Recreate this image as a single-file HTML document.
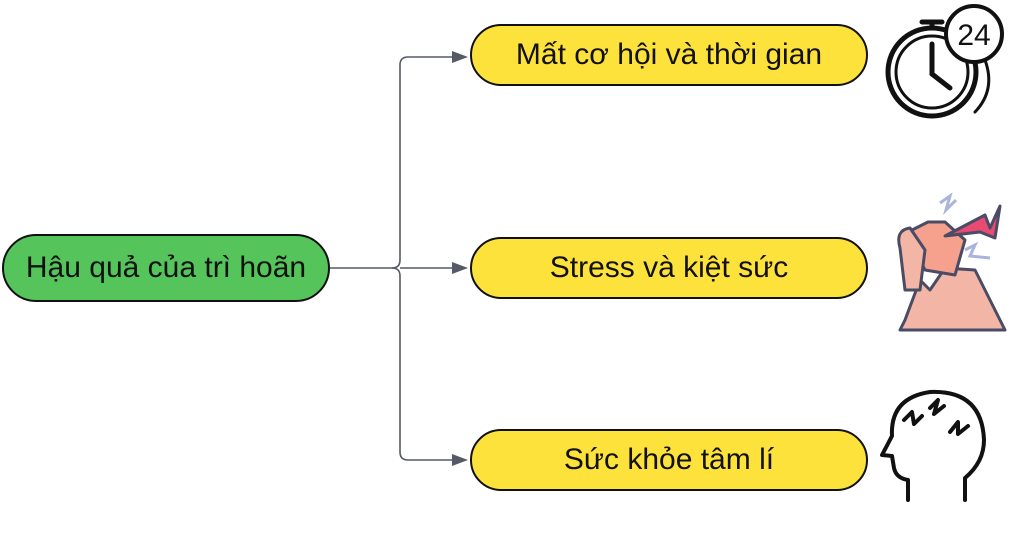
<!DOCTYPE html>
<html><head><meta charset="utf-8"><style>
html,body{margin:0;padding:0;background:#fff;}
body{width:1024px;height:534px;position:relative;overflow:hidden;font-family:"Liberation Sans","DejaVu Sans",sans-serif;}
.n{position:absolute;box-sizing:border-box;border:2.5px solid #111;border-radius:34px;display:flex;align-items:center;justify-content:center;font-size:30px;color:#111;}
.y{background:#fde23b;left:470px;width:398px;height:62px;}
</style></head><body>
<svg width="1024" height="534" style="position:absolute;left:0;top:0">
<g fill="none" stroke="#555a66" stroke-width="1.6">
<path d="M330 268 H392 Q400 268 400 260 V65 Q400 57 408 57 H456"/>
<path d="M392 268 Q400 268 400 276 V452 Q400 460 408 460 H456"/>
<path d="M400 268 H456"/>
</g>
<g fill="#555a66">
<path d="M468 57 L452 51 L452 63Z"/><path d="M468 268 L452 262 L452 274Z"/><path d="M468 460 L452 454 L452 466Z"/>
</g>
<g fill="none" stroke="#111" stroke-width="5" stroke-linecap="round">
<circle cx="932" cy="72" r="44"/>
<circle cx="932" cy="72" r="36" stroke-width="3"/>
<path d="M932 44 V74 L950 88"/>
<path d="M922 22 H942 M932 22 V28"/>
<path d="M985 60 Q996 90 975 112" stroke-width="3"/>
</g>
<circle cx="974" cy="34" r="28" fill="#fff" stroke="#111" stroke-width="4"/>
<text x="974" y="45" font-size="30" text-anchor="middle" font-family="Liberation Sans,sans-serif" fill="#111">24</text>
<g stroke="#4a4c66" stroke-width="3" stroke-linejoin="round">
<path d="M905 320 L920 280 L930 290 L945 268 L975 270 L1005 330 L900 330Z" fill="#f3b6a6"/>
<path d="M912 230 L928 222 L945 222 L965 240 L955 275 L925 270 L915 250Z" fill="#f6a08e"/>
<path d="M900 248 Q895 230 910 228 L925 250 L920 290 L905 290Z" fill="#f3b6a6"/>
<path d="M945 236 L985 215 L990 228 L1000 206 L995 238 L980 232Z" fill="#e84a72"/>
</g>
<path d="M940 203 L950 196 L946 210 L956 200" stroke="#a9b3dc" stroke-width="3" fill="none"/>
<path d="M965 250 L975 245 L970 256 L990 258" stroke="#a9b3dc" stroke-width="3" fill="none"/>
<g fill="none" stroke="#111" stroke-width="4" stroke-linejoin="round" stroke-linecap="round">
<path d="M908 500 V480 Q896 478 894 468 L892 456 L882 455 L892 436 Q890 398 930 392 Q982 390 984 440 Q984 462 965 478 V500"/>
<path d="M904 420 L912 412 L914 424 L922 416"/>
<path d="M930 408 L938 400 L934 414 L944 406"/>
<path d="M950 432 L958 422 L958 434 L968 426"/>
</g>
</svg>
<div class="n" style="left:2px;top:234px;width:328px;height:68px;background:#54c45b;">Hậu quả của trì hoãn</div>
<div class="n y" style="top:24px;">Mất cơ hội và thời gian</div>
<div class="n y" style="top:237px;">Stress và kiệt sức</div>
<div class="n y" style="top:429px;">Sức khỏe tâm lí</div>
</body></html>
